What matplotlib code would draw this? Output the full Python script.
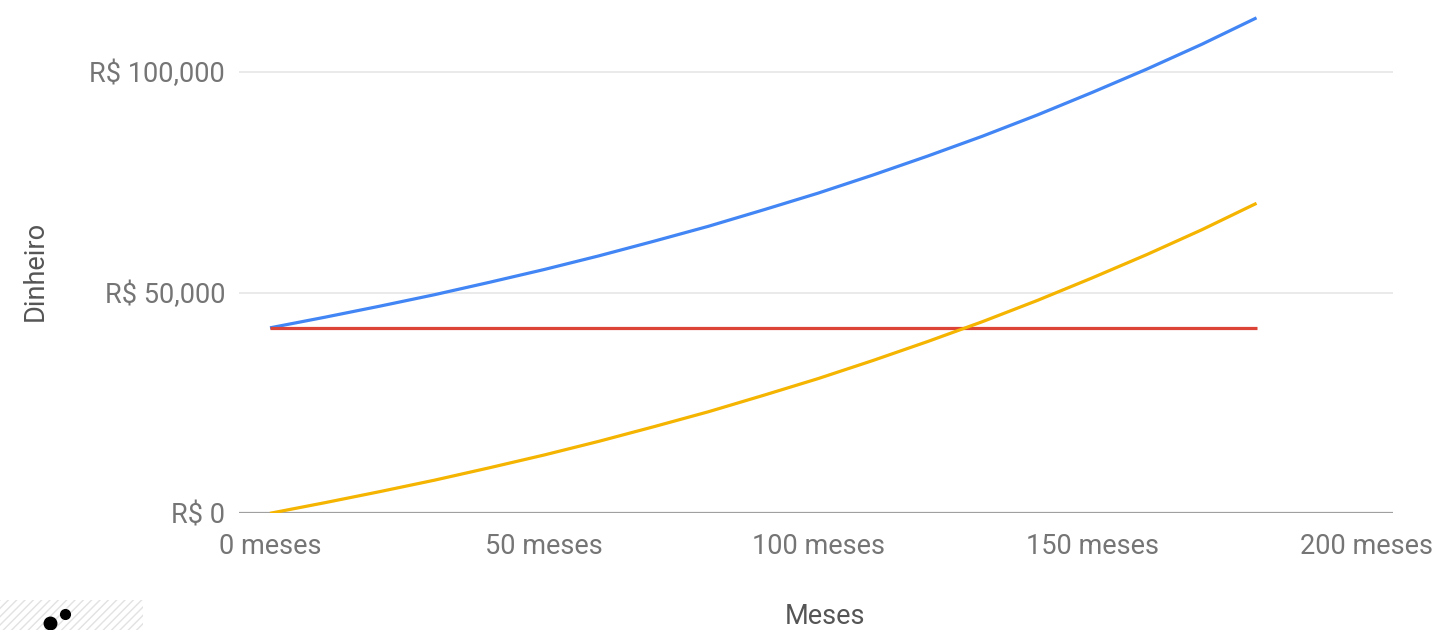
import matplotlib.pyplot as plt
from matplotlib.patches import Rectangle
from matplotlib.lines import Line2D

plt.rcParams['font.family'] = ['Roboto', 'DejaVu Sans']

# -----------------------------
# Data
# -----------------------------

meses = [0, 10, 20, 30, 40, 50, 60, 70, 80, 90, 100, 110, 120, 130, 140, 150, 160, 170, 180]

total = [42000, 44400, 46900, 49500, 52300, 55200, 58300, 61600, 65000, 68700,
         72500, 76600, 80900, 85400, 90200, 95300, 100600, 106200, 112200]

investido = [42000] * len(meses)

juros = [0, 2400, 4900, 7500, 10300, 13200, 16300, 19600, 23000, 26700,
         30500, 34600, 38900, 43400, 48200, 53300, 58600, 64200, 70200]

x_ticks = [0, 50, 100, 150, 200]
x_labels = ["0 meses", "50 meses", "100 meses", "150 meses", "200 meses"]
y_ticks = [0, 50000, 100000]
y_labels = ["R$ 0", "R$ 50,000", "R$ 100,000"]

# -----------------------------
# Figure
# -----------------------------

W, H = 1447, 630
fig = plt.figure(figsize=(W / 100, H / 100), dpi=100)
ax = fig.add_axes([239 / W, (H - 513.3) / H, (1393 - 239) / W, 513.3 / H])

ax.plot(meses, total, color='#4285F4', lw=2.3, solid_capstyle='butt')
ax.plot(meses, investido, color='#DB4437', lw=2.3, solid_capstyle='butt')
ax.plot(meses, juros, color='#F4B400', lw=2.3, solid_capstyle='butt')

ax.set_xlim(-5.66, 204.9)
ax.set_ylim(0, 116240)

for v in y_ticks[1:]:
    ax.axhline(v, color='#e8e8e8', lw=1.3, zorder=0)
ax.axhline(0, color='#a0a0a0', lw=1.6, zorder=0)

for s in ax.spines.values():
    s.set_visible(False)

ax.set_xticks(x_ticks)
ax.set_xticklabels(x_labels)
ax.set_yticks(y_ticks)
ax.set_yticklabels(y_labels)
ax.tick_params(length=0, labelsize=19.5, colors='#757575')
ax.tick_params(axis='x', pad=14.5)
ax.tick_params(axis='y', pad=10)
for lbl in ax.get_xticklabels() + ax.get_yticklabels():
    lbl.set_color('#757575')

fig.text(825 / W, 1 - 616 / H, "Meses", ha='center', va='center', fontsize=19.5, color='#555555')
fig.text(35 / W, 1 - 271 / H, "Dinheiro", ha='center', va='center', rotation=90,
         fontsize=19.5, color='#555555')

# small hatched box in the bottom-left corner of the screenshot
box = Rectangle((0, 0), 143 / W, 30 / H, transform=fig.transFigure, facecolor='white',
                edgecolor='#e2e2e2', hatch='////', lw=0)
fig.add_artist(box)
fig.add_artist(Line2D([50 / W], [1 - 623 / H], marker='o', markersize=9, color='black',
                      transform=fig.transFigure))
fig.add_artist(Line2D([65 / W], [1 - 614 / H], marker='o', markersize=7, color='black',
                      transform=fig.transFigure))

fig.savefig("out.png", dpi=100)
